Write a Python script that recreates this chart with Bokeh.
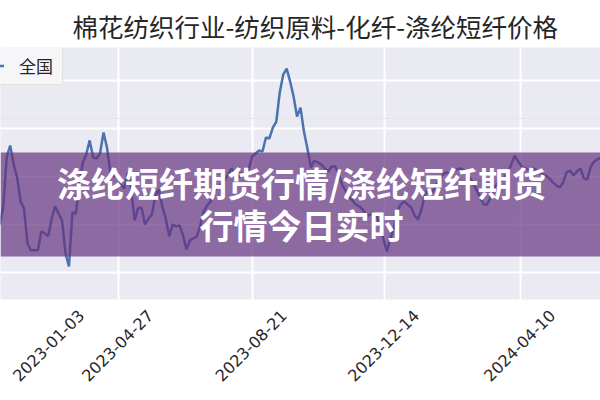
import math
import pandas as pd
from bokeh.plotting import figure
from bokeh.models import (Range1d, FixedTicker, Grid, BoxAnnotation, Label,
                          CustomJSTickFormatter, ColumnDataSource)
from bokeh.embed import file_html
from bokeh.resources import INLINE

# ---------------- data ----------------
title_text = "棉花纺织行业-纺织原料-化纤-涤纶短纤价格"
series_name = "全国"
banner_lines = ["涤纶短纤期货行情/涤纶短纤期货", "行情今日实时"]

start_date = "2023-01-14"
step = "3D"
price = [
    7250, 7344, 7604, 7661, 7563, 7495, 7370, 7333, 7151, 7115,
    7115, 7115, 7214, 7203, 7188, 7281, 7344, 7307, 7271, 7099,
    7031, 7313, 7307, 7458, 7573, 7615, 7688, 7599, 7594, 7620,
    7729, 7651, 7516, 7500, 7521, 7458, 7438, 7521, 7438, 7271,
    7333, 7339, 7250, 7281, 7302, 7401, 7432, 7344, 7281, 7188,
    7250, 7240, 7245, 7193, 7120, 7167, 7177, 7188, 7245, 7318,
    7349, 7370, 7422, 7443, 7458, 7479, 7510, 7542, 7516, 7495,
    7516, 7516, 7536, 7604, 7620, 7635, 7630, 7703, 7698, 7755,
    7786, 7938, 8031, 8062, 7995, 7917, 7812, 7859, 7734, 7646,
    7547, 7583, 7573, 7563, 7542, 7526, 7552, 7552, 7516, 7458,
    7427, 7396, 7375, 7354, 7344, 7328, 7302, 7297, 7313, 7297,
    7240, 7172, 7109, 7177, 7229, 7318, 7354, 7370, 7354, 7339,
    7297, 7276, 7328, 7406, 7438, 7411, 7448, 7479, 7505, 7521,
    7516, 7521, 7536, 7542, 7536, 7521, 7495, 7464, 7427, 7391,
    7354, 7354, 7391, 7438, 7464, 7479, 7495, 7521, 7563, 7609,
    7578, 7552, 7542, 7536, 7547, 7536, 7521, 7510, 7505, 7490,
    7469, 7453, 7443, 7469, 7521, 7531, 7505, 7526, 7542, 7490,
    7484, 7552, 7578, 7589, 7599,
]
tick_labels = ["2023-01-03", "2023-04-27", "2023-08-21", "2023-12-14", "2024-04-10"]
y_ticks = [7000, 7250, 7500, 7750, 8000]

# ---------------- build ----------------
dates = pd.date_range(start=start_date, periods=len(price), freq=step)
src = ColumnDataSource(dict(date=dates, price=price))

DAY = 86400000.0

def ms(ts):
    return pd.Timestamp(ts).value / 1e6

x_start = ms("2023-01-14 13:40")
x_end = ms("2024-06-18 10:30")

# rotated labels are anchored at their right end; shift them so each label is
# centred under its grid line (as in the reference), keep the first one inside
LABEL_SHIFT = 27.5 * DAY
LABEL_MIN = x_start + 70 * DAY
grid_ticks = [ms(d) for d in tick_labels]
label_ticks = [max(t + LABEL_SHIFT, LABEL_MIN) for t in grid_ticks]

p = figure(x_axis_type="datetime", y_axis_location=None,
           x_range=Range1d(x_start, x_end), y_range=Range1d(6859, 8172),
           frame_width=600, frame_height=252,
           min_border_left=0, min_border_right=0,
           min_border_top=43, min_border_bottom=100,
           output_backend="svg", toolbar_location=None)

p.background_fill_color = "#EAEAF2"
p.border_fill_color = "white"
p.outline_line_color = None

p.title.text = title_text
p.title.align = "left"
p.title.offset = 72
p.title.standoff = 8
p.title.text_font = "Noto Sans CJK SC"
p.title.text_font_size = "25.5px"
p.title.text_font_style = "normal"
p.title.text_color = "#262626"

ax = p.xaxis[0]
ax.ticker = FixedTicker(ticks=label_ticks)
ax.formatter = CustomJSTickFormatter(
    args=dict(pos=label_ticks, labels=tick_labels),
    code="""
let best = 0;
for (let i = 1; i < pos.length; i++) {
  if (Math.abs(pos[i] - tick) < Math.abs(pos[best] - tick)) best = i;
}
return labels[best];
""")
ax.major_label_orientation = math.pi / 4
ax.major_tick_line_color = None
ax.minor_tick_line_color = None
ax.axis_line_color = None
ax.major_tick_out = 0
ax.major_label_standoff = 13
ax.major_label_text_font = "DejaVu Sans"
ax.major_label_text_font_size = "16px"
ax.major_label_text_color = "#262626"

p.xgrid.ticker = FixedTicker(ticks=grid_ticks)
p.xgrid.grid_line_color = "white"
p.xgrid.grid_line_width = 2
p.add_layout(Grid(dimension=1, ticker=FixedTicker(ticks=y_ticks),
                  grid_line_color="white", grid_line_width=2))

p.line(x="date", y="price", source=src, line_color="#4C72B0",
       line_width=2.5, legend_label=series_name)

leg = p.legend[0]
leg.location = (-23, 214)
leg.margin = 0
leg.padding = 6
leg.spacing = 0
leg.glyph_width = 20
leg.glyph_height = 19
leg.label_standoff = 15
leg.label_width = 37
leg.label_text_font = "Noto Sans CJK SC"
leg.label_text_font_size = "17px"
leg.label_text_color = "#262626"
leg.border_line_color = "#CCCCCC"
leg.border_line_width = 1
leg.background_fill_color = "#F7F7F9"
leg.background_fill_alpha = 0.9

p.add_layout(BoxAnnotation(top=7625, bottom=7083, fill_color="#663380",
                           fill_alpha=0.7, line_color=None))
for txt, yy in zip(banner_lines, [117, 75]):
    p.add_layout(Label(x=301, y=yy, x_units="screen", y_units="screen", text=txt,
                       text_font="Noto Sans CJK SC", text_font_size="34px",
                       text_font_style="bold", text_color="white",
                       text_align="center", text_baseline="middle"))

open("out.html", "w").write(file_html(p, INLINE))
